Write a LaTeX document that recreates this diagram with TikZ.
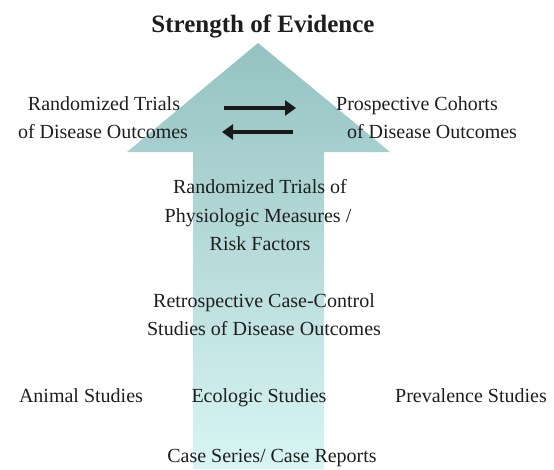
\documentclass[tikz,border=0pt]{standalone}
\usepackage{fontspec}
\setmainfont{Liberation Serif}
\usetikzlibrary{arrows.meta}
\definecolor{arrtop}{HTML}{95C2C2}
\definecolor{arrbot}{HTML}{D8F5F3}
\definecolor{txtc}{HTML}{1E1E1E}
\begin{document}
\begin{tikzpicture}[x=1pt,y=-1pt,
  lbl/.style={font=\fontsize{20}{27.5}\selectfont, inner sep=0pt, anchor=base, text=txtc},
  ttl/.style={font=\fontsize{25}{30}\selectfont\bfseries, inner sep=0pt, anchor=base, text=txtc},
  dirarrow/.style={line width=4pt, black!90, -{Triangle[length=11pt,width=15pt]}}]
\useasboundingbox (0,0) rectangle (554,469);
% big arrow
\coordinate (tip) at (258,43);
\shade[top color=arrtop, bottom color=arrbot]
  (tip) -- (390,152) -- (324,152) -- (324,469) -- (193,469) -- (193,152) -- (127,152) -- cycle;
% title
\node[ttl] (title) at (263,32) {Strength of Evidence};
% top level
\node[lbl] (rt1) at (104,110) {Randomized Trials};
\node[lbl] (rt2) at (103,138) {of Disease Outcomes};
\node[lbl] (pc1) at (417,110) {Prospective Cohorts};
\node[lbl] (pc2) at (432,138) {of Disease Outcomes};
% exchange arrows
\coordinate (a1s) at (224,108);
\coordinate (a1e) at (296,108);
\coordinate (a2s) at (293,132);
\coordinate (a2e) at (222,132);
\draw[dirarrow] (a1s) -- (a1e);
\draw[dirarrow] (a2s) -- (a2e);
% middle
\node[lbl] (pm1) at (260,193) {Randomized Trials of};
\node[lbl] (pm2) at (258,222) {Physiologic Measures /};
\node[lbl] (pm3) at (260,250) {Risk Factors};
\node[lbl] (cc1) at (264,307) {Retrospective Case-Control};
\node[lbl] (cc2) at (264,335) {Studies of Disease Outcomes};
% bottom
\node[lbl] (an) at (81,402) {Animal Studies};
\node[lbl] (ec) at (259,402) {Ecologic Studies};
\node[lbl] (pv) at (471,402) {Prevalence Studies};
\node[lbl] (cs) at (272,462) {Case Series/ Case Reports};
\end{tikzpicture}
\end{document}
